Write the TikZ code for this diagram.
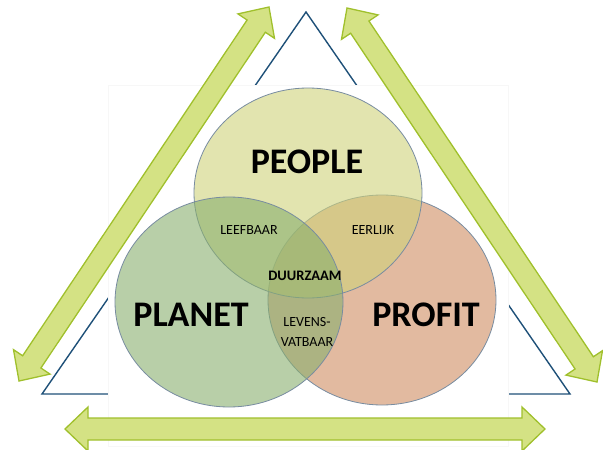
\documentclass[tikz,border=0pt]{standalone}
\usepackage{fontspec}
\setmainfont{Carlito}
\usetikzlibrary{calc, positioning}
\definecolor{arrowfill}{RGB}{212,226,132}
\definecolor{arrowline}{RGB}{160,192,44}
\definecolor{triline}{RGB}{30,80,120}
\definecolor{peoplecol}{RGB}{207,210,123}
\definecolor{planetcol}{RGB}{137,175,110}
\definecolor{profitcol}{RGB}{207,140,97}
\definecolor{ringline}{RGB}{120,140,160}
\tikzset {
    x=1pt, y=-1pt,
    blockarrow/.style={fill=arrowfill, draw=arrowline, line width=1.3pt, line join=miter},
    triangle/.style={draw=triline, line width=1.4pt},
    ring/.style={draw=ringline, line width=0.8pt, fill opacity=0.6},
    big/.style={font=\fontsize{36}{36}\selectfont\bfseries},
    small/.style={font=\fontsize{14}{19.5}\selectfont, align=center},
    smallbold/.style={font=\fontsize{14.5}{16}\selectfont\bfseries}
}
% block arrow with two heads between two named coordinates
\newcommand\twoheads[2]{%
    \coordinate (#1h) at ($(#1)!23pt!(#2)$);
    \coordinate (#2h) at ($(#2)!23pt!(#1)$);
    \draw[blockarrow] (#1)
        -- ($(#1h)!22pt!90:(#2)$) -- ($(#1h)!11pt!90:(#2)$)
        -- ($(#2h)!11pt!-90:(#1)$) -- ($(#2h)!22pt!-90:(#1)$)
        -- (#2)
        -- ($(#2h)!22pt!90:(#1)$) -- ($(#2h)!11pt!90:(#1)$)
        -- ($(#1h)!11pt!-90:(#2)$) -- ($(#1h)!22pt!-90:(#2)$)
        -- cycle;}

\begin{document}
\begin{tikzpicture}
    \useasboundingbox (0,0) rectangle (603,450);

    % triangle behind the picture
    \coordinate (top) at (306,12);
    \coordinate (botleft) at (42,394);
    \coordinate (botright) at (570,394);
    \draw[triangle] (top) -- (botright) -- (botleft) -- cycle;
    \fill[white, draw=black!3] (108,85) rectangle (508,446);

    % arrows
    \coordinate (la) at (19,381);
    \coordinate (lb) at (269,7);
    \coordinate (ra) at (597,382);
    \coordinate (rb) at (347,8);
    \coordinate (ba) at (65,429);
    \coordinate (bb) at (545,429);
    \twoheads{la}{lb}
    \twoheads{ra}{rb}
    \twoheads{ba}{bb}

    % circles
    \coordinate (profit) at (382,300);
    \coordinate (people) at (308,193);
    \coordinate (planet) at (229,302);
    \draw[ring, fill=profitcol] (profit) ellipse [x radius=114pt, y radius=105pt];
    \draw[ring, fill=peoplecol] (people) ellipse [x radius=114pt, y radius=105pt];
    \draw[ring, fill=planetcol] (planet) ellipse [x radius=114pt, y radius=105pt];

    % labels
    \node[big] (tpeople) at (307,162) {PEOPLE};
    \node[big] (tplanet) at (191,315) {PLANET};
    \node[big] (tprofit) at (426,315) {PROFIT};
    \node[small] (leef) at (249,230) {LEEFBAAR};
    \node[small] (eer) at (373,230) {EERLIJK};
    \node[smallbold] (duur) at (305,276) {DUURZAAM};
    \node[small] (lev) at (307,332) {LEVENS-\\VATBAAR};
\end{tikzpicture}
\end{document}
